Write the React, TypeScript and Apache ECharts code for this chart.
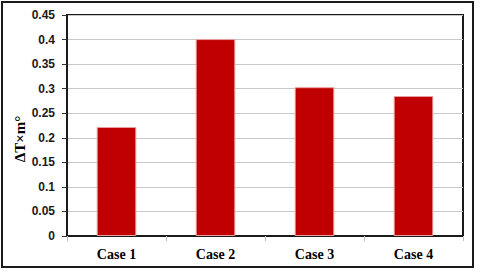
import React, { useEffect, useRef } from "react";
import * as echarts from "echarts";

const categories = ["Case 1", "Case 2", "Case 3", "Case 4"];
const values = [0.222, 0.401, 0.303, 0.285];
const yTitle = "ΔT×m°";

export default function App() {
  const ref = useRef<HTMLDivElement>(null);
  useEffect(() => {
    document.body.style.margin = "0";
    const chart = echarts.init(ref.current!, null, { renderer: "svg" });
    chart.setOption({
      animation: false,
      backgroundColor: "#ffffff",
      grid: {
        left: 67,
        top: 15,
        right: 17,
        bottom: 36,
        show: true,
        borderColor: "#1a1a1a",
        borderWidth: 2,
        backgroundColor: "transparent",
      },
      graphic: [
        {
          type: "rect",
          shape: { x: 2, y: 2, width: 471, height: 265 },
          style: { fill: "none", stroke: "#1a1a1a", lineWidth: 2 },
          z: -1,
        },
        {
          type: "text",
          x: 20,
          y: 139,
          rotation: Math.PI / 2,
          style: {
            text: yTitle,
            fill: "#000",
            font: "bold 15px 'Liberation Serif'",
            align: "center",
            verticalAlign: "middle",
          },
        },
      ],
      xAxis: {
        type: "category",
        data: categories,
        axisLine: { show: true, lineStyle: { color: "#1a1a1a", width: 2 } },
        axisTick: { show: true, length: 5, lineStyle: { color: "#bfbfbf" } },
        axisLabel: {
          margin: 11,
          color: "#000",
          fontFamily: "Liberation Serif",
          fontWeight: "bold",
          fontSize: 14,
        },
      },
      yAxis: {
        type: "value",
        min: 0,
        max: 0.45,
        interval: 0.05,
        axisLine: { show: true, lineStyle: { color: "#1a1a1a", width: 2 } },
        axisTick: { show: true, length: 5, lineStyle: { color: "#333" } },
        axisLabel: {
          margin: 12,
          color: "#1a1a1a",
          fontFamily: "Liberation Sans",
          fontWeight: "bold",
          fontSize: 12,
          formatter: (v: number) => String(parseFloat(v.toFixed(2))),
        },
        splitLine: { show: true, lineStyle: { color: "#c8c8c8", width: 1 } },
      },
      series: [
        {
          type: "bar",
          data: values,
          barWidth: "40%",
          itemStyle: { color: "#c00000", borderColor: "#eaa0a0", borderWidth: 1 },
        },
      ],
    });
    return () => chart.dispose();
  }, []);
  return <div ref={ref} style={{ width: 480, height: 272 }} />;
}
